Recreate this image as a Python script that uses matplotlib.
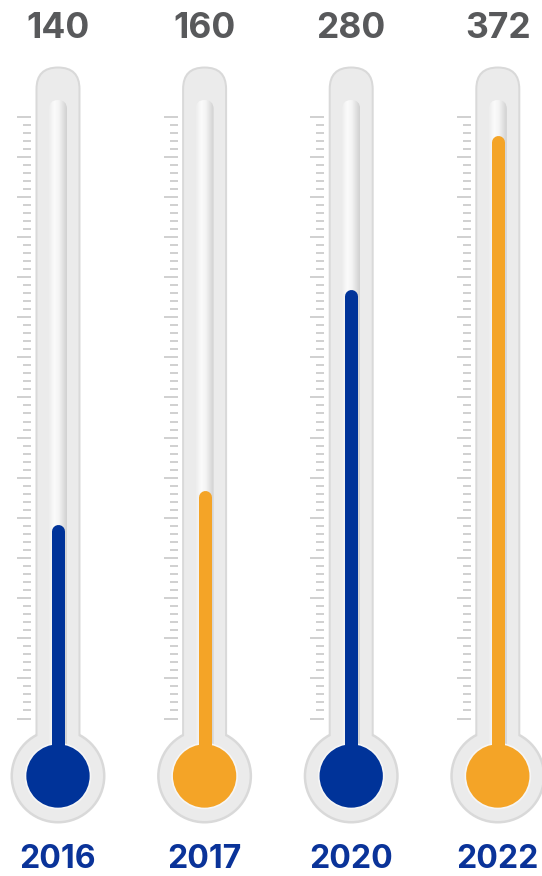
import numpy as np
import matplotlib
matplotlib.use("Agg")
import matplotlib.pyplot as plt
from matplotlib.patches import FancyBboxPatch, Circle
from matplotlib.colors import LinearSegmentedColormap

# ---- data ----
years = ["2016", "2017", "2020", "2022"]
values = [140, 160, 280, 372]
colors = ["#003399", "#F4A427", "#003399", "#F4A427"]

W, H = 542, 876
fig = plt.figure(figsize=(W / 100, H / 100), dpi=100)
fig.patch.set_facecolor("white")

# background (pixel) axes for the glass decoration
bg = fig.add_axes([0, 0, 1, 1])
bg.set_xlim(0, W)
bg.set_ylim(H, 0)
bg.axis("off")

# data axes: x = category index, y = value
ax = fig.add_axes([0, 0, 1, 1])
ax.patch.set_visible(False)
ax.axis("off")
ax.set_xlim(-0.3956, 3.3015)
ax.set_ylim(-65.6, 456.4)

fig.canvas.draw()
def to_px(x, y):
    dx, dy = ax.transData.transform((x, y))
    return dx, H - dy

glass_cmap = LinearSegmentedColormap.from_list(
    "glass", [(0, "#ededed"), (0.3, "#fbfbfb"), (0.55, "#f4f4f4"), (1.0, "#d0d0d0")])
grad = np.linspace(0, 1, 256).reshape(1, -1)

bulb_y = 776
for i, (yr, v, col) in enumerate(zip(years, values, colors)):
    c, _ = to_px(i, 0)
    # outer tube + bulb (border then fill)
    bw = 2.0
    tube_top = 66.5
    hw = 22.5
    bg.add_patch(FancyBboxPatch((c - hw, tube_top), 2 * hw, bulb_y - tube_top,
                                boxstyle=f"round,pad=0,rounding_size={hw}",
                                fc="#d9d9d9", ec="none", zorder=1))
    bg.add_patch(Circle((c, bulb_y), 47.5, fc="#d9d9d9", ec="none", zorder=1))
    bg.add_patch(FancyBboxPatch((c - hw + bw, tube_top + bw), 2 * (hw - bw), bulb_y - tube_top,
                                boxstyle=f"round,pad=0,rounding_size={hw - bw}",
                                fc="#ebebeb", ec="none", zorder=2))
    bg.add_patch(Circle((c, bulb_y), 47.5 - 2.5, fc="#ebebeb", ec="none", zorder=2))
    # inner glass tube with gradient
    iw = 9
    itop = 100
    clip = FancyBboxPatch((c - iw, itop), 2 * iw, bulb_y - itop - 20,
                          boxstyle=f"round,pad=0,rounding_size={iw}",
                          fc="none", ec="none", zorder=3)
    bg.add_patch(clip)
    im = bg.imshow(grad, cmap=glass_cmap, extent=(c - iw, c + iw, bulb_y - 20, itop),
                   aspect="auto", zorder=3, interpolation="bilinear")
    im.set_clip_path(clip)
    # bulb fill
    bg.add_patch(Circle((c, bulb_y), 32.5, fc=col, ec="#f6f6f6", lw=1.2, zorder=4))
    # tick marks
    tick_ys = 116.5 + np.arange(76) * (602.0 / 75)
    for k, ty in enumerate(tick_ys):
        x0 = c - 41 if k % 5 == 0 else c - 35
        bg.plot([x0, c - 27], [ty, ty], color="#c4c4c4", lw=1.1,
                solid_capstyle="butt", zorder=2)
    # value label
    bg.text(c, 38, f"{v}", ha="center", va="baseline", fontsize=25.5,
            color="#58595b", fontweight="bold", family=["Inter", "DejaVu Sans"])
    # year label
    bg.text(c, 875.5, yr, ha="center", va="bottom", fontsize=23,
            color="#0a3399", fontweight="bold", family=["Inter", "DejaVu Sans"])

# mercury columns drawn from the data
for i, (v, col) in enumerate(zip(values, colors)):
    ax.plot([i, i], [0, v], color=col, lw=13 * 0.72, solid_capstyle="round", zorder=5)

fig.savefig("out.png", dpi=100, facecolor="white")
